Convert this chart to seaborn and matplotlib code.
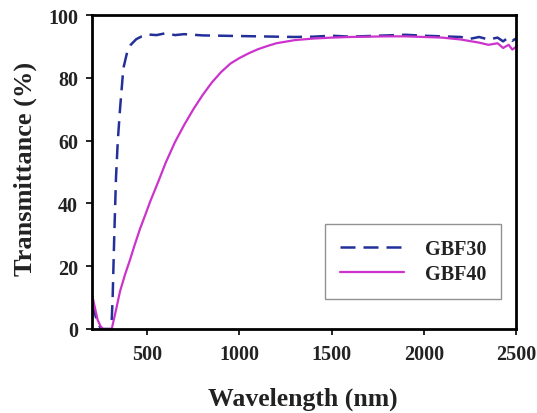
import numpy as np
import pandas as pd
import seaborn as sns
import matplotlib
matplotlib.use("Agg")
import matplotlib.pyplot as plt

# GBF30 transmittance (dashed)
wl30 = [200, 215, 230, 250, 270, 290, 305, 312, 320, 330, 340, 352, 370, 390,
        410, 440, 470, 500, 550, 600, 650, 700, 800, 900, 1000, 1100, 1200, 1300,
        1400, 1500, 1600, 1700, 1800, 1900, 2000, 2100, 2200, 2250, 2300, 2350,
        2400, 2430, 2460, 2480, 2500]
t30 = [8, 5, 2, 0, 0, 0, 0, 10, 28, 48, 60, 70, 83, 88,
       90.5, 92.3, 93.2, 93.8, 93.6, 94.2, 93.6, 93.9, 93.5, 93.4, 93.3, 93.2, 93.1, 93.0,
       93.1, 93.4, 93.1, 93.3, 93.5, 93.7, 93.4, 93.2, 93.0, 92.4, 93.0, 92.2,
       92.8, 91.6, 92.9, 91.8, 92.5]

# GBF40 transmittance (solid)
wl40 = [200, 215, 230, 245, 260, 280, 300, 307, 330, 352, 380, 406, 430, 461, 490,
        515, 560, 600, 650, 700, 750, 800, 850, 900, 950, 1000, 1050, 1100, 1150,
        1200, 1300, 1400, 1500, 1600, 1700, 1800, 1900, 2000, 2100, 2200, 2300,
        2350, 2400, 2430, 2460, 2480, 2500]
t40 = [11, 7, 3, 1, 0, 0, 0, 0, 6, 12, 17.5, 22, 26.5, 32, 36.5,
       40.5, 47, 53, 59.5, 65, 70, 74.5, 78.5, 81.8, 84.5, 86.3, 87.8, 89.1, 90.1,
       91, 92, 92.5, 92.8, 93, 93.1, 93.2, 93.2, 93, 92.8, 92.2, 91.2,
       90.5, 91, 89.5, 90.5, 89, 89.8]

df30 = pd.DataFrame({"Wavelength": wl30, "T": t30})
df40 = pd.DataFrame({"Wavelength": wl40, "T": t40})

sns.set_style("ticks")
plt.rcParams['font.family'] = ['Liberation Serif', 'DejaVu Serif']
plt.rcParams['font.weight'] = 'bold'

fig = plt.figure(figsize=(5.37, 4.14), dpi=100)
ax = fig.add_axes([92/537, 1 - 330/414, (516 - 92)/537, (330 - 16)/414])

sns.lineplot(data=df30, x="Wavelength", y="T", ax=ax, color="#23309a",
             linewidth=1.8, label="GBF30")
ax.lines[-1].set_dashes((6, 3.2))
sns.lineplot(data=df40, x="Wavelength", y="T", ax=ax, color="#cc33cc",
             linewidth=1.6, label="GBF40")

ax.set_xlim(200, 2500)
ax.set_ylim(0, 100)
ax.set_xticks([500, 1000, 1500, 2000, 2500])
ax.set_yticks([0, 20, 40, 60, 80, 100])
ax.tick_params(axis='both', direction='out', length=4, width=1.2, labelsize=14.5,
               colors='black')
ax.tick_params(axis='x', pad=7)
ax.tick_params(axis='y', pad=6)
for lab in ax.get_xticklabels() + ax.get_yticklabels():
    lab.set_fontweight('bold')
    lab.set_color('#222222')
for sp in ax.spines.values():
    sp.set_visible(True)
    sp.set_linewidth(2)
    sp.set_color('black')

ax.set_xlabel("Wavelength (nm)", fontsize=18.5, fontweight='bold', color='#222222')
ax.set_ylabel("Transmittance (%)", fontsize=19, fontweight='bold', color='#222222')
ax.xaxis.set_label_coords(0.498, -0.182)
ax.yaxis.set_label_coords(-0.13, 0.513)

leg = ax.legend(loc='lower right', bbox_to_anchor=(0.965, 0.095), frameon=True,
                fancybox=False, edgecolor='#777777', fontsize=14.5, handlelength=3.2,
                borderpad=0.75, handletextpad=1.0, labelspacing=0.25, borderaxespad=0)
leg.get_frame().set_linewidth(1.0)
for t in leg.get_texts():
    t.set_fontweight('bold')
    t.set_color('#222222')

fig.savefig("out.png", dpi=100)
